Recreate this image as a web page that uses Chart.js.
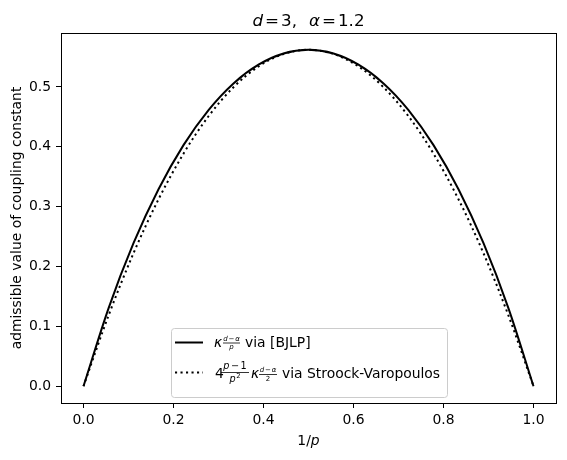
<!DOCTYPE html>
<html>
<head>
<meta charset="utf-8">
<script src="https://cdn.jsdelivr.net/npm/chart.js@4.4.1/dist/chart.umd.min.js"></script>
<style>
  html, body { margin: 0; padding: 0; background: #fff; }
  #wrap { width: 567px; height: 460px; }
</style>
</head>
<body>
<div id="wrap"><canvas id="myChart" width="567" height="460"></canvas></div>
<script>
// 1/p on the x axis
var invP = [0, 0.0556, 0.1111, 0.1667, 0.2222, 0.2778, 0.3333, 0.3889, 0.4444, 0.5,
            0.5556, 0.6111, 0.6667, 0.7222, 0.7778, 0.8333, 0.8889, 0.9444, 1];
// kappa_{(d-a)/p} via [BJLP]
var bjlp = [0, 0.1301, 0.2389, 0.3291, 0.4028, 0.4614, 0.5060, 0.5373, 0.5559, 0.5621,
            0.5559, 0.5373, 0.5060, 0.4614, 0.4028, 0.3291, 0.2389, 0.1301, 0];
// 4(p-1)/p^2 kappa_{(d-a)/2} via Stroock-Varopoulos
var stroock = [0, 0.1180, 0.2221, 0.3123, 0.3886, 0.4511, 0.4996, 0.5343, 0.5551, 0.5621,
               0.5551, 0.5343, 0.4996, 0.4511, 0.3886, 0.3123, 0.2221, 0.1180, 0];
var xTicks = [0, 0.2, 0.4, 0.6, 0.8, 1.0];
var yTicks = [0, 0.1, 0.2, 0.3, 0.4, 0.5];

var FAM = "'DejaVu Sans'";
function f(size, it) { return (it ? "italic " : "") + size + "px " + FAM; }

// draw pieces of text one after another: [text, font, gap, dy]
function run(ctx, parts, x, y, center) {
  var w = 0;
  parts.forEach(function (p) { ctx.font = p[1]; w += ctx.measureText(p[0]).width + (p[2] || 0); });
  var cx = center ? x - w / 2 : x;
  parts.forEach(function (p) {
    ctx.font = p[1];
    ctx.fillText(p[0], cx, y + (p[3] || 0));
    cx += ctx.measureText(p[0]).width + (p[2] || 0);
  });
  return w;
}

// small stacked fraction, numerator/denominator are run() parts
function frac(ctx, num, den, x0, x1, barY, numY, denY) {
  var mid = (x0 + x1) / 2;
  run(ctx, num, mid, numY, true);
  run(ctx, den, mid, denY, true);
  ctx.beginPath();
  ctx.lineWidth = 0.8;
  ctx.moveTo(x0, barY);
  ctx.lineTo(x1, barY);
  ctx.stroke();
}

var decor = {
  id: 'decor',
  afterDatasetsDraw: function (chart) {
    var ctx = chart.ctx, a = chart.chartArea;
    ctx.save();
    ctx.strokeStyle = '#000';
    ctx.lineWidth = 1;
    var l = Math.floor(a.left) + 0.5, t = Math.floor(a.top) + 0.5;
    ctx.strokeRect(l, t, Math.round(a.right - a.left), Math.round(a.bottom - a.top));
    ctx.restore();
  },
  afterDraw: function (chart) {
    var ctx = chart.ctx, a = chart.chartArea;
    var mid = (a.left + a.right) / 2;
    ctx.save();
    ctx.fillStyle = '#000';
    ctx.strokeStyle = '#000';
    ctx.textBaseline = 'alphabetic';
    ctx.textAlign = 'left';

    // title
    run(ctx, [['d', f(16.7, true), 2], ['=', f(16.7), 2], ['3', f(16.7), 0], [',', f(16.7), 12],
              ['\u03b1', f(16.7, true), 2], ['=', f(16.7), 2], ['1.2', f(16.7), 0]], mid, 26, true);

    // x label
    run(ctx, [['1/', f(13.9)], ['p', f(13.9, true)]], mid, 445, true);

    // y label
    ctx.save();
    ctx.translate(21, (a.top + a.bottom) / 2);
    ctx.rotate(-Math.PI / 2);
    ctx.textAlign = 'center';
    ctx.font = f(13.9);
    ctx.fillText('admissible value of coupling constant', 0, 0);
    ctx.restore();

    // legend box
    ctx.beginPath();
    ctx.roundRect(171.5, 328.5, 276, 69, 3);
    ctx.fillStyle = 'rgba(255,255,255,0.8)';
    ctx.fill();
    ctx.strokeStyle = '#cccccc';
    ctx.lineWidth = 1;
    ctx.stroke();
    ctx.fillStyle = '#000';
    ctx.strokeStyle = '#000';

    // handles
    ctx.lineWidth = 2;
    ctx.beginPath();
    ctx.moveTo(175, 342.5); ctx.lineTo(203, 342.5);
    ctx.stroke();
    ctx.setLineDash([2.1, 3.4]);
    ctx.beginPath();
    ctx.moveTo(175, 372.5); ctx.lineTo(203, 372.5);
    ctx.stroke();
    ctx.setLineDash([]);

    // row 1
    run(ctx, [['\u03ba', f(13.9, true)]], 214, 347);
    frac(ctx, [['d', f(7, true), 0.8], ['\u2212', f(7), 0.8], ['\u03b1', f(7, true)]],
         [['p', f(7, true)]], 223, 240, 343, 340.5, 348.5);
    run(ctx, [['via [BJLP]', f(13.9)]], 245, 347);

    // row 2
    run(ctx, [['4', f(13.9)]], 215, 378);
    frac(ctx, [['p', f(9.7, true), 1.5], ['\u2212', f(9.7), 1.5], ['1', f(9.7)]],
         [['p', f(9.7, true), 0.5], ['2', f(6.8), 0, -4]], 221, 249, 372.5, 369, 381.5);
    run(ctx, [['\u03ba', f(13.9, true)]], 251, 378);
    frac(ctx, [['d', f(7, true), 0.8], ['\u2212', f(7), 0.8], ['\u03b1', f(7, true)]],
         [['2', f(7)]], 259, 277, 374.5, 372, 380.5);
    run(ctx, [['via Stroock-Varopoulos', f(13.9)]], 282, 378);

    ctx.restore();
  }
};

function pts(ys) {
  return invP.map(function (x, i) { return { x: x, y: ys[i] }; });
}

var tickFont = { family: FAM, size: 13.9 };

new Chart(document.getElementById('myChart').getContext('2d'), {
  type: 'line',
  data: {
    datasets: [
      {
        data: pts(bjlp),
        borderColor: '#000',
        borderWidth: 2,
        pointRadius: 0,
        fill: false,
        cubicInterpolationMode: 'monotone'
      },
      {
        data: pts(stroock),
        borderColor: '#000',
        borderWidth: 2,
        borderDash: [2.1, 3.4],
        borderCapStyle: 'butt',
        pointRadius: 0,
        fill: false,
        cubicInterpolationMode: 'monotone'
      }
    ]
  },
  options: {
    responsive: false,
    animation: false,
    devicePixelRatio: 1,
    layout: { padding: { top: 33, right: 11, bottom: 0, left: 0 } },
    plugins: { legend: { display: false }, title: { display: false }, tooltip: { enabled: false } },
    scales: {
      x: {
        type: 'linear',
        min: -0.05,
        max: 1.05,
        afterBuildTicks: function (s) { s.ticks = xTicks.map(function (v) { return { value: v }; }); },
        afterFit: function (s) { s.height = 57; },
        ticks: { callback: function (v) { return v.toFixed(1); }, font: tickFont, color: '#000', padding: 4, maxRotation: 0, autoSkip: false },
        grid: { drawOnChartArea: false, tickLength: 5, color: '#000' },
        border: { display: false }
      },
      y: {
        type: 'linear',
        min: -0.0281,
        max: 0.5902,
        afterBuildTicks: function (s) { s.ticks = yTicks.map(function (v) { return { value: v }; }); },
        afterFit: function (s) { s.width = 61; },
        ticks: { callback: function (v) { return v.toFixed(1); }, font: tickFont, color: '#000', padding: 5, autoSkip: false },
        grid: { drawOnChartArea: false, tickLength: 5, color: '#000' },
        border: { display: false }
      }
    }
  },
  plugins: [decor]
});
</script>
</body>
</html>
